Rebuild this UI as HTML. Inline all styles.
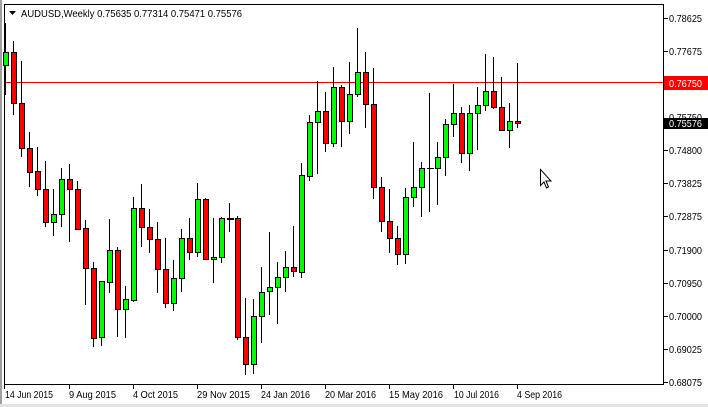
<!DOCTYPE html>
<html><head><meta charset="utf-8"><style>
html,body{margin:0;padding:0;background:#fff;}
svg{display:block;font-family:"Liberation Sans",sans-serif;font-size:10.5px;}
</style></head><body>
<svg width="708" height="407" viewBox="0 0 708 407" xmlns="http://www.w3.org/2000/svg" shape-rendering="crispEdges">
<rect x="0" y="0" width="708" height="407" fill="#fff"/>
<rect x="0" y="0" width="2" height="407" fill="#a0a0a0"/>
<rect x="0" y="404" width="708" height="3" fill="#e4e4e4"/>
<rect x="4" y="4" width="1" height="381" fill="#000"/>
<rect x="4" y="4" width="660" height="1" fill="#000"/>
<rect x="663" y="4" width="1" height="381" fill="#000"/>
<rect x="4" y="384" width="660" height="1" fill="#000"/>
<rect x="5" y="82" width="658" height="1" fill="#e00000"/>
<g fill="#000">
<rect x="664" y="18" width="4" height="1"/><rect x="664" y="51" width="4" height="1"/>
<rect x="664" y="150" width="4" height="1"/><rect x="664" y="183" width="4" height="1"/>
<rect x="664" y="216" width="4" height="1"/><rect x="664" y="250" width="4" height="1"/>
<rect x="664" y="283" width="4" height="1"/><rect x="664" y="316" width="4" height="1"/>
<rect x="664" y="349" width="4" height="1"/><rect x="664" y="382" width="4" height="1"/>
</g>
<g fill="#000">
<text x="669" y="22" textLength="33" lengthAdjust="spacingAndGlyphs">0.78625</text><text x="669" y="55" textLength="33" lengthAdjust="spacingAndGlyphs">0.77675</text>
<text x="669" y="121" textLength="33" lengthAdjust="spacingAndGlyphs">0.75750</text>
<text x="669" y="154" textLength="33" lengthAdjust="spacingAndGlyphs">0.74800</text><text x="669" y="187" textLength="33" lengthAdjust="spacingAndGlyphs">0.73825</text>
<text x="669" y="220" textLength="33" lengthAdjust="spacingAndGlyphs">0.72875</text><text x="669" y="254" textLength="33" lengthAdjust="spacingAndGlyphs">0.71900</text>
<text x="669" y="287" textLength="33" lengthAdjust="spacingAndGlyphs">0.70950</text><text x="669" y="320" textLength="33" lengthAdjust="spacingAndGlyphs">0.70000</text>
<text x="669" y="353" textLength="33" lengthAdjust="spacingAndGlyphs">0.69025</text><text x="669" y="386" textLength="33" lengthAdjust="spacingAndGlyphs">0.68075</text>
</g>
<rect x="664" y="76" width="44" height="14" fill="#ff0000"/>
<text x="669" y="87" fill="#fff" textLength="33" lengthAdjust="spacingAndGlyphs">0.76750</text>
<rect x="664" y="118" width="44" height="11" fill="#000"/>
<text x="669" y="127" fill="#fff" textLength="33" lengthAdjust="spacingAndGlyphs">0.75576</text>
<g fill="#000">
<rect x="4" y="385" width="1" height="4"/><rect x="69" y="385" width="1" height="4"/>
<rect x="133" y="385" width="1" height="4"/><rect x="197" y="385" width="1" height="4"/>
<rect x="261" y="385" width="1" height="4"/><rect x="325" y="385" width="1" height="4"/>
<rect x="389" y="385" width="1" height="4"/><rect x="453" y="385" width="1" height="4"/>
<rect x="517" y="385" width="1" height="4"/>
</g>
<g fill="#000">
<text x="5" y="398" textLength="48" lengthAdjust="spacingAndGlyphs">14 Jun 2015</text>
<text x="69" y="398" textLength="47" lengthAdjust="spacingAndGlyphs">9 Aug 2015</text>
<text x="133" y="398" textLength="45" lengthAdjust="spacingAndGlyphs">4 Oct 2015</text>
<text x="197" y="398" textLength="53" lengthAdjust="spacingAndGlyphs">29 Nov 2015</text>
<text x="261" y="398" textLength="49" lengthAdjust="spacingAndGlyphs">24 Jan 2016</text>
<text x="325" y="398" textLength="51" lengthAdjust="spacingAndGlyphs">20 Mar 2016</text>
<text x="389" y="398" textLength="54" lengthAdjust="spacingAndGlyphs">15 May 2016</text>
<text x="454" y="398" textLength="45" lengthAdjust="spacingAndGlyphs">10 Jul 2016</text>
<text x="517" y="398" textLength="45" lengthAdjust="spacingAndGlyphs">4 Sep 2016</text>
</g>
<g stroke="none">
<rect x="5" y="23" width="1" height="72" fill="#000"/><rect x="3.5" y="52.5" width="5" height="13" fill="#00ff00" stroke="#000"/>
<rect x="13" y="41" width="1" height="74" fill="#000"/><rect x="11.5" y="52.5" width="5" height="51" fill="#ff0000" stroke="#000"/>
<rect x="21" y="61" width="1" height="96" fill="#000"/><rect x="19.5" y="103.5" width="5" height="45" fill="#ff0000" stroke="#000"/>
<rect x="29" y="132" width="1" height="55" fill="#000"/><rect x="27.5" y="148.5" width="5" height="24" fill="#ff0000" stroke="#000"/>
<rect x="37" y="147" width="1" height="49" fill="#000"/><rect x="35.5" y="171.5" width="5" height="18" fill="#ff0000" stroke="#000"/>
<rect x="45" y="161" width="1" height="66" fill="#000"/><rect x="43.5" y="189.5" width="5" height="33" fill="#ff0000" stroke="#000"/>
<rect x="53" y="189" width="1" height="47" fill="#000"/><rect x="51.5" y="214.5" width="5" height="8" fill="#00ff00" stroke="#000"/>
<rect x="61" y="168" width="1" height="59" fill="#000"/><rect x="59.5" y="179.5" width="5" height="35" fill="#00ff00" stroke="#000"/>
<rect x="69" y="164" width="1" height="78" fill="#000"/><rect x="67.5" y="179.5" width="5" height="10" fill="#ff0000" stroke="#000"/>
<rect x="77" y="181" width="1" height="49" fill="#000"/><rect x="75.5" y="189.5" width="5" height="40" fill="#ff0000" stroke="#000"/>
<rect x="85" y="220" width="1" height="85" fill="#000"/><rect x="83.5" y="228.5" width="5" height="40" fill="#ff0000" stroke="#000"/>
<rect x="93" y="262" width="1" height="85" fill="#000"/><rect x="91.5" y="268.5" width="5" height="70" fill="#ff0000" stroke="#000"/>
<rect x="101" y="281" width="1" height="65" fill="#000"/><rect x="99.5" y="281.5" width="5" height="56" fill="#00ff00" stroke="#000"/>
<rect x="109" y="219" width="1" height="74" fill="#000"/><rect x="107.5" y="250.5" width="5" height="32" fill="#00ff00" stroke="#000"/>
<rect x="117" y="247" width="1" height="90" fill="#000"/><rect x="115.5" y="250.5" width="5" height="59" fill="#ff0000" stroke="#000"/>
<rect x="125" y="286" width="1" height="52" fill="#000"/><rect x="123.5" y="299.5" width="5" height="10" fill="#00ff00" stroke="#000"/>
<rect x="133" y="197" width="1" height="105" fill="#000"/><rect x="131.5" y="208.5" width="5" height="92" fill="#00ff00" stroke="#000"/>
<rect x="141" y="184" width="1" height="63" fill="#000"/><rect x="139.5" y="208.5" width="5" height="19" fill="#ff0000" stroke="#000"/>
<rect x="149" y="209" width="1" height="44" fill="#000"/><rect x="147.5" y="227.5" width="5" height="12" fill="#ff0000" stroke="#000"/>
<rect x="157" y="222" width="1" height="71" fill="#000"/><rect x="155.5" y="239.5" width="5" height="30" fill="#ff0000" stroke="#000"/>
<rect x="165" y="238" width="1" height="70" fill="#000"/><rect x="163.5" y="269.5" width="5" height="34" fill="#ff0000" stroke="#000"/>
<rect x="173" y="260" width="1" height="51" fill="#000"/><rect x="171.5" y="278.5" width="5" height="25" fill="#00ff00" stroke="#000"/>
<rect x="181" y="229" width="1" height="63" fill="#000"/><rect x="179.5" y="238.5" width="5" height="40" fill="#00ff00" stroke="#000"/>
<rect x="189" y="218" width="1" height="42" fill="#000"/><rect x="187.5" y="238.5" width="5" height="14" fill="#ff0000" stroke="#000"/>
<rect x="197" y="183" width="1" height="74" fill="#000"/><rect x="195.5" y="199.5" width="5" height="53" fill="#00ff00" stroke="#000"/>
<rect x="205" y="198" width="1" height="62" fill="#000"/><rect x="203.5" y="199.5" width="5" height="60" fill="#ff0000" stroke="#000"/>
<rect x="213" y="218" width="1" height="65" fill="#000"/><rect x="211.5" y="257.5" width="5" height="2" fill="#00ff00" stroke="#000"/>
<rect x="221" y="217" width="1" height="46" fill="#000"/><rect x="219.5" y="218.5" width="5" height="39" fill="#00ff00" stroke="#000"/>
<rect x="229" y="203" width="1" height="29" fill="#000"/><rect x="227" y="218" width="7" height="2" fill="#000"/>
<rect x="237" y="216" width="1" height="124" fill="#000"/><rect x="235.5" y="218.5" width="5" height="119" fill="#ff0000" stroke="#000"/>
<rect x="245" y="298" width="1" height="77" fill="#000"/><rect x="243.5" y="337.5" width="5" height="27" fill="#ff0000" stroke="#000"/>
<rect x="253" y="299" width="1" height="75" fill="#000"/><rect x="251.5" y="316.5" width="5" height="48" fill="#00ff00" stroke="#000"/>
<rect x="261" y="267" width="1" height="76" fill="#000"/><rect x="259.5" y="292.5" width="5" height="24" fill="#00ff00" stroke="#000"/>
<rect x="269" y="232" width="1" height="83" fill="#000"/><rect x="267.5" y="287.5" width="5" height="4" fill="#00ff00" stroke="#000"/>
<rect x="277" y="262" width="1" height="62" fill="#000"/><rect x="275.5" y="277.5" width="5" height="10" fill="#00ff00" stroke="#000"/>
<rect x="285" y="251" width="1" height="41" fill="#000"/><rect x="283.5" y="267.5" width="5" height="10" fill="#00ff00" stroke="#000"/>
<rect x="293" y="226" width="1" height="51" fill="#000"/><rect x="291.5" y="267.5" width="5" height="4" fill="#ff0000" stroke="#000"/>
<rect x="301" y="163" width="1" height="115" fill="#000"/><rect x="299.5" y="175.5" width="5" height="97" fill="#00ff00" stroke="#000"/>
<rect x="309" y="115" width="1" height="66" fill="#000"/><rect x="307.5" y="122.5" width="5" height="54" fill="#00ff00" stroke="#000"/>
<rect x="317" y="81" width="1" height="93" fill="#000"/><rect x="315.5" y="111.5" width="5" height="11" fill="#00ff00" stroke="#000"/>
<rect x="325" y="92" width="1" height="60" fill="#000"/><rect x="323.5" y="111.5" width="5" height="32" fill="#ff0000" stroke="#000"/>
<rect x="333" y="67" width="1" height="80" fill="#000"/><rect x="331.5" y="87.5" width="5" height="56" fill="#00ff00" stroke="#000"/>
<rect x="341" y="85" width="1" height="62" fill="#000"/><rect x="339.5" y="87.5" width="5" height="34" fill="#ff0000" stroke="#000"/>
<rect x="349" y="62" width="1" height="72" fill="#000"/><rect x="347.5" y="94.5" width="5" height="27" fill="#00ff00" stroke="#000"/>
<rect x="357" y="28" width="1" height="69" fill="#000"/><rect x="355.5" y="72.5" width="5" height="22" fill="#00ff00" stroke="#000"/>
<rect x="365" y="52" width="1" height="76" fill="#000"/><rect x="363.5" y="72.5" width="5" height="32" fill="#ff0000" stroke="#000"/>
<rect x="373" y="68" width="1" height="131" fill="#000"/><rect x="371.5" y="104.5" width="5" height="83" fill="#ff0000" stroke="#000"/>
<rect x="381" y="177" width="1" height="55" fill="#000"/><rect x="379.5" y="187.5" width="5" height="34" fill="#ff0000" stroke="#000"/>
<rect x="389" y="189" width="1" height="64" fill="#000"/><rect x="387.5" y="221.5" width="5" height="17" fill="#ff0000" stroke="#000"/>
<rect x="397" y="226" width="1" height="39" fill="#000"/><rect x="395.5" y="238.5" width="5" height="16" fill="#ff0000" stroke="#000"/>
<rect x="405" y="188" width="1" height="76" fill="#000"/><rect x="403.5" y="197.5" width="5" height="57" fill="#00ff00" stroke="#000"/>
<rect x="413" y="142" width="1" height="65" fill="#000"/><rect x="411.5" y="187.5" width="5" height="10" fill="#00ff00" stroke="#000"/>
<rect x="421" y="162" width="1" height="55" fill="#000"/><rect x="419.5" y="168.5" width="5" height="19" fill="#00ff00" stroke="#000"/>
<rect x="429" y="93" width="1" height="119" fill="#000"/><rect x="427" y="168" width="7" height="1" fill="#000"/>
<rect x="437" y="142" width="1" height="63" fill="#000"/><rect x="435.5" y="157.5" width="5" height="11" fill="#00ff00" stroke="#000"/>
<rect x="445" y="119" width="1" height="57" fill="#000"/><rect x="443.5" y="124.5" width="5" height="33" fill="#00ff00" stroke="#000"/>
<rect x="453" y="84" width="1" height="53" fill="#000"/><rect x="451.5" y="113.5" width="5" height="11" fill="#00ff00" stroke="#000"/>
<rect x="461" y="107" width="1" height="56" fill="#000"/><rect x="459.5" y="113.5" width="5" height="40" fill="#ff0000" stroke="#000"/>
<rect x="469" y="105" width="1" height="66" fill="#000"/><rect x="467.5" y="113.5" width="5" height="40" fill="#00ff00" stroke="#000"/>
<rect x="477" y="87" width="1" height="63" fill="#000"/><rect x="475.5" y="105.5" width="5" height="8" fill="#00ff00" stroke="#000"/>
<rect x="485" y="54" width="1" height="57" fill="#000"/><rect x="483.5" y="91.5" width="5" height="14" fill="#00ff00" stroke="#000"/>
<rect x="493" y="57" width="1" height="52" fill="#000"/><rect x="491.5" y="91.5" width="5" height="16" fill="#ff0000" stroke="#000"/>
<rect x="501" y="77" width="1" height="54" fill="#000"/><rect x="499.5" y="107.5" width="5" height="23" fill="#ff0000" stroke="#000"/>
<rect x="509" y="103" width="1" height="45" fill="#000"/><rect x="507.5" y="121.5" width="5" height="9" fill="#00ff00" stroke="#000"/>
<rect x="517" y="63" width="1" height="65" fill="#000"/><rect x="515.5" y="121.5" width="5" height="2" fill="#ff0000" stroke="#000"/>
</g>
<polygon points="9,11 16,11 12.5,15" fill="#000" shape-rendering="auto"/>
<text x="21" y="17" fill="#000" textLength="221" lengthAdjust="spacingAndGlyphs">AUDUSD,Weekly  0.75635 0.77314 0.75471 0.75576</text>
<polygon points="540.5,169.5 540.5,185.5 544,182 546.5,188 548.5,187 546,181 551,181" fill="#fff" stroke="#000" shape-rendering="auto"/>
</svg>
</body></html>
